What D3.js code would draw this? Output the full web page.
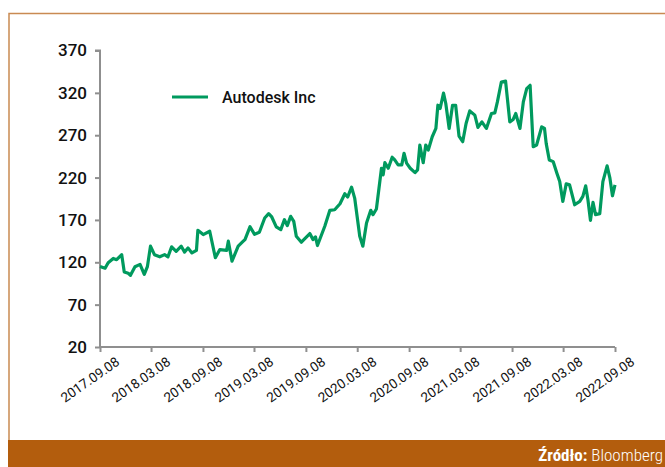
<!DOCTYPE html>
<html>
<head>
<meta charset="utf-8">
<script src="https://cdn.jsdelivr.net/npm/d3@7/dist/d3.min.js"></script>
<style>
  body { margin: 0; background: #fff; }
  svg { display: block; font-family: Roboto, 'Liberation Sans', sans-serif; }
</style>
</head>
<body>
<svg width="665" height="467"></svg>
<script>
// Autodesk Inc share price (USD)
const dates = [
  '2017-09-08', '2017-09-26', '2017-10-07', '2017-10-25', '2017-11-06', '2017-11-24', '2017-12-03', '2017-12-17',
  '2017-12-25', '2018-01-10', '2018-01-28', '2018-02-12', '2018-02-23', '2018-03-06', '2018-03-20', '2018-04-08',
  '2018-04-25', '2018-05-07', '2018-05-20', '2018-06-05', '2018-06-23', '2018-07-05', '2018-07-17', '2018-07-31',
  '2018-08-16', '2018-08-21', '2018-09-09', '2018-10-02', '2018-10-22', '2018-11-07', '2018-12-01', '2018-12-07',
  '2018-12-20', '2019-01-11', '2019-01-29', '2019-02-04', '2019-02-22', '2019-03-10', '2019-03-27', '2019-04-15',
  '2019-04-29', '2019-05-10', '2019-05-26', '2019-06-11', '2019-06-24', '2019-07-04', '2019-07-16', '2019-07-27',
  '2019-08-05', '2019-08-23', '2019-09-22', '2019-10-03', '2019-10-12', '2019-10-19', '2019-11-14', '2019-12-02',
  '2019-12-19', '2020-01-07', '2020-01-24', '2020-02-03', '2020-02-17', '2020-02-28', '2020-03-17', '2020-03-28',
  '2020-04-10', '2020-04-25', '2020-05-03', '2020-05-15', '2020-06-02', '2020-06-08', '2020-06-14', '2020-06-26',
  '2020-07-10', '2020-07-19', '2020-07-31', '2020-08-13', '2020-08-21', '2020-08-30', '2020-09-12', '2020-09-29',
  '2020-10-08', '2020-10-16', '2020-10-28', '2020-11-06', '2020-11-15', '2020-11-29', '2020-12-12', '2020-12-19',
  '2020-12-27', '2021-01-08', '2021-01-16', '2021-01-28', '2021-02-09', '2021-02-20', '2021-03-04', '2021-03-17',
  '2021-03-29', '2021-04-11', '2021-04-29', '2021-05-10', '2021-05-24', '2021-06-09', '2021-06-27', '2021-07-09',
  '2021-07-18', '2021-08-01', '2021-08-16', '2021-08-31', '2021-09-12', '2021-09-21', '2021-10-06', '2021-10-18',
  '2021-10-30', '2021-11-11', '2021-11-22', '2021-12-04', '2021-12-22', '2022-01-01', '2022-01-07', '2022-01-18',
  '2022-02-01', '2022-02-14', '2022-02-24', '2022-03-07', '2022-03-19', '2022-03-31', '2022-04-18', '2022-05-06',
  '2022-05-17', '2022-05-27', '2022-06-04', '2022-06-13', '2022-06-22', '2022-07-01', '2022-07-16', '2022-07-27',
  '2022-08-11', '2022-08-21', '2022-08-30', '2022-09-08'
]
const prices = [
  115, 113, 119.5, 124.5, 123, 129, 108.5, 107,
  104.6, 114.8, 117.5, 105.7, 114.8, 139, 129, 126.5,
  129, 126.5, 138.3, 133, 139, 132, 137, 131,
  134, 157.8, 152.7, 156.6, 125.4, 135, 134, 144.9,
  121.4, 139, 144.9, 146.8, 162, 153, 155.4, 172.3,
  177.4, 173.5, 161.8, 158.6, 170.3, 163.3, 174.2, 168.3,
  150.7, 143.7, 153.9, 146.8, 150, 139.8, 162.5, 181.3,
  182, 189.1, 200.9, 197, 208.7, 195.8, 150.7, 139,
  166.4, 181.3, 176.2, 182.9, 231, 223.2, 237.6, 231,
  244, 240.8, 235, 235, 248.7, 237, 231, 225.9,
  229, 258.4, 237.6, 258.4, 252.6, 268.2, 278, 305.4,
  301.5, 319.8, 307.4, 278, 305.4, 305.4, 269, 262.3,
  283.9, 298.7, 293.7, 279.2, 285.8, 278, 295.6, 296.4,
  309.3, 332.8, 333.9, 285.8, 288.6, 295.6, 278, 309.3,
  325, 328.9, 256.4, 258.4, 279.9, 278, 260.4, 240.8,
  238.8, 225.2, 215.3, 191.8, 212.6, 211.4, 187.9, 191.8,
  197.7, 210.3, 193.8, 169.5, 190.7, 176.2, 177.4, 215.3,
  233.8, 219.3, 198.5, 211.4
]
const seriesName = 'Autodesk Inc'
const yTicks = [20, 70, 120, 170, 220, 270, 320, 370]
const xTicks = [
  '2017-09-08', '2018-03-08', '2018-09-08', '2019-03-08', '2019-09-08', '2020-03-08',
  '2020-09-08', '2021-03-08', '2021-09-08', '2022-03-08', '2022-09-08'
]
const sourceLabel = 'Źródło:'
const sourceName = ' Bloomberg'

const parse = d3.timeParse('%Y-%m-%d')
const fmt = d3.timeFormat('%Y.%m.%d')
const data = dates.map((d, i) => ({ date: parse(d), value: prices[i] }))

const width = 665
const height = 467
const green = '#009a5e'
const axisColor = '#8f8f8f'
const font = 'Roboto, sans-serif'

const svg = d3.select('svg')

// frame + footer
svg.append('path')
  .attr('d', `M9,440V13.5H${ width + 2 }`)
  .attr('fill', 'none')
  .attr('stroke', '#c98a52')
  .attr('stroke-width', 1.5)

svg.append('rect')
  .attr('x', 8).attr('y', 440)
  .attr('width', width).attr('height', height - 440)
  .attr('fill', '#b35d0d')

const src = svg.append('text')
  .attr('x', 663).attr('y', 461)
  .attr('text-anchor', 'end')
  .attr('fill', '#fff')
  .attr('font-size', 17)
  .attr('font-stretch', 'condensed')
src.append('tspan').attr('font-weight', 700).text(sourceLabel)
src.append('tspan').attr('font-weight', 300).text(sourceName)

const x = d3.scaleTime()
  .domain(d3.extent(xTicks, parse))
  .range([100, 615])

const y = d3.scaleLinear()
  .domain([20, 370])
  .range([347, 50.5])

// y axis
const yAxis = svg.append('g')
  .attr('transform', 'translate(100,0)')
  .call(d3.axisLeft(y).tickValues(yTicks).tickSize(5).tickPadding(8))
  .attr('font-family', font)
yAxis.select('.domain').attr('stroke', axisColor).attr('stroke-width', 2)
  .attr('d', `M-5,${ y(370) }H0V${ y(20) }`)
yAxis.selectAll('.tick line').attr('stroke', axisColor).attr('stroke-width', 2)
yAxis.selectAll('.tick text')
  .attr('font-size', 17)
  .attr('font-weight', 500)
  .attr('fill', '#111')

// x axis
const xAxis = svg.append('g')
  .attr('transform', `translate(0,${ y(20) })`)
  .call(d3.axisBottom(x).tickValues(xTicks.map(parse)).tickSize(5).tickFormat(fmt))
  .attr('font-family', font)
xAxis.select('.domain').attr('stroke', axisColor).attr('stroke-width', 2)
  .attr('d', 'M100,0H615')
xAxis.selectAll('.tick line').attr('stroke', axisColor).attr('stroke-width', 2)
xAxis.selectAll('.tick text')
  .attr('font-size', 13.5)
  .attr('fill', '#111')
  .attr('text-anchor', 'end')
  .attr('dy', 0)
  .attr('y', 0)
  .attr('transform', 'translate(20,17) rotate(-35)')

// line
const line = d3.line()
  .x(d => x(d.date))
  .y(d => y(d.value))

svg.append('path')
  .datum(data)
  .attr('d', line)
  .attr('fill', 'none')
  .attr('stroke', green)
  .attr('stroke-width', 3.2)
  .attr('stroke-linejoin', 'round')

// legend
const legend = svg.append('g').attr('transform', 'translate(172,97)')
legend.append('line')
  .attr('x1', 0).attr('x2', 36)
  .attr('stroke', green)
  .attr('stroke-width', 3.2)
legend.append('text')
  .attr('x', 50).attr('y', 6)
  .attr('font-size', 16)
  .attr('font-weight', 500)
  .attr('fill', '#111')
  .text(seriesName)
</script>
</body>
</html>
